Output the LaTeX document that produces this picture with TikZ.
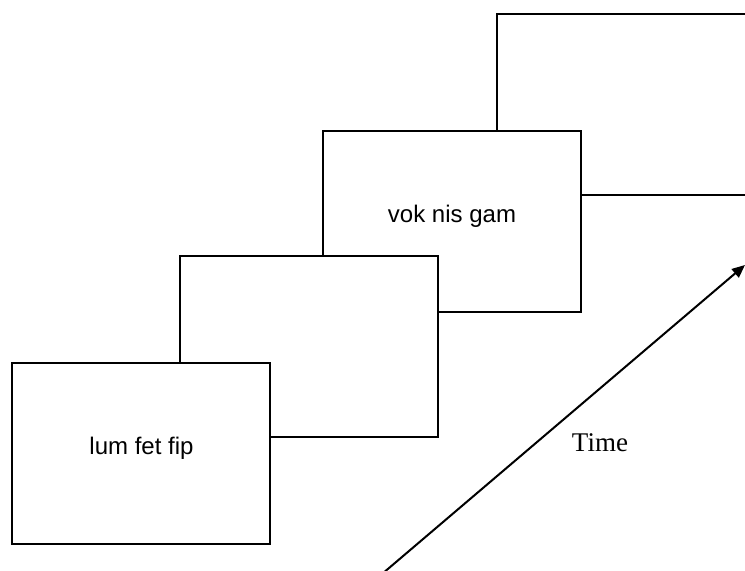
\documentclass[tikz,border=0pt]{standalone}
\usepackage{fontspec}
\setmainfont{Liberation Serif}
\newfontfamily\boxfont{Liberation Sans}
\usetikzlibrary{arrows.meta}
\begin{document}
\begin{tikzpicture}[x=0.5pt,y=-0.5pt,
  frame/.style={draw=black,line width=1pt,fill=white,rectangle,
    inner sep=0pt,outer sep=0pt,minimum width=129pt,minimum height=90.5pt},
  boxtext/.style={anchor=base,inner sep=0pt,font=\boxfont\fontsize{12pt}{14pt}\selectfont},
  timetext/.style={anchor=base,inner sep=0pt,font=\fontsize{13.5pt}{16pt}\selectfont},
  timeline/.style={line width=1pt,-{Triangle[length=6.5pt,width=5.5pt]}}]
  \useasboundingbox (0,0) rectangle (745,571);
  \clip (0,0) rectangle (745,571);
  % stacked frames, back to front
  \node[frame] (f4) at (626,105) {};
  \node[frame] (f3) at (452,222) {};
  \node[frame] (f2) at (309,346.5) {};
  \node[frame] (f1) at (141,453.5) {};
  \node[boxtext] (l3) at (452,223) {vok nis gam};
  \node[boxtext] (l1) at (141.5,455) {lum fet fip};
  % time axis
  \coordinate (t0) at (382,574);
  \coordinate (t1) at (745,265);
  \draw[timeline] (t0) -- (t1);
  \node[timetext] (time) at (600,452) {Time};
\end{tikzpicture}
\end{document}
